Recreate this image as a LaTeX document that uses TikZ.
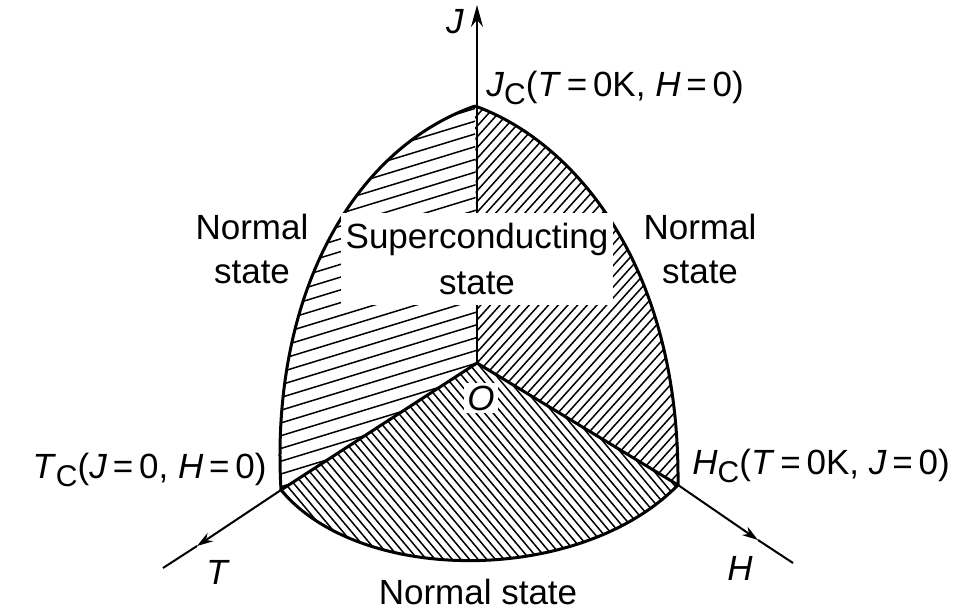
\documentclass[tikz,border=0pt]{standalone}
\usepackage{fontspec}
\setmainfont{Liberation Sans}
\usetikzlibrary{arrows.meta}
\newcommand\csub[1]{\raisebox{-0.4ex}{\fontsize{15}{17}\selectfont #1}}
\begin{document}
\begin{tikzpicture}[x=0.5pt,y=-0.5pt,
  bound/.style={line width=1.5pt, line join=round},
  axisline/.style={line width=1pt},
  hatch/.style={line width=0.75pt},
  lbl/.style={font=\fontsize{17.5}{21}\selectfont, inner sep=0pt},
]
\useasboundingbox (0,0) rectangle (979,613);
\coordinate (O) at (477,363);
\coordinate (Jc) at (475,106);
\coordinate (Tc) at (281,490);
\coordinate (Hc) at (678,485);
\coordinate (Jend) at (477,5);
\coordinate (Tarr) at (197,546);
\coordinate (Tend) at (163,568);
\coordinate (Harr) at (758,540);
\coordinate (Hend) at (793,563);

% hatching: left region
\begin{scope}
\clip (O) -- (Jc) .. controls (350,150) and (270,300) .. (Tc) -- cycle;
\begin{scope}[shift={(O)}, rotate=17]
\foreach \i in {-40,...,40} \draw[hatch] (-700,{\i*12.2}) -- (700,{\i*12.2});
\end{scope}
\end{scope}
% hatching: right region
\begin{scope}
\clip (O) -- (Jc) .. controls (570,140) and (680,260) .. (Hc) -- cycle;
\begin{scope}[shift={(O)}, rotate=48]
\foreach \i in {-60,...,60} \draw[hatch] (-700,{\i*7.2}) -- (700,{\i*7.2});
\end{scope}
\end{scope}
% hatching: bottom region
\begin{scope}
\clip (O) -- (Tc) .. controls (360,585) and (580,585) .. (Hc) -- cycle;
\begin{scope}[shift={(O)}, rotate=-50]
\foreach \i in {-60,...,60} \draw[hatch] (-700,{\i*6.6}) -- (700,{\i*6.6});
\end{scope}
\end{scope}

% axes
\draw[axisline,-{Stealth[length=11pt,width=6pt]}] (O) -- (Jend);
\draw[axisline,-{Stealth[length=8pt,width=5pt]}] (Tc) -- (Tarr);
\draw[axisline] (Tarr) -- (Tend);
\draw[axisline,-{Stealth[length=8pt,width=5pt]}] (Hc) -- (Harr);
\draw[axisline] (Harr) -- (Hend);

% boundaries
\draw[bound] (Jc) .. controls (350,150) and (270,300) .. (Tc);
\draw[bound] (Jc) .. controls (570,140) and (680,260) .. (Hc);
\draw[bound] (Tc) .. controls (360,585) and (580,585) .. (Hc);
\draw[bound] (Tc) -- (O) -- (Hc);

% superconducting label with white background
\node[lbl, fill=white, minimum width=136pt, minimum height=46pt, align=center]
  (sc) at (477,259) {Superconducting\\[2pt]state};

% labels
\node[lbl] (Jl) at (455,22) {\textit{J}};
\node[lbl, anchor=west] (Jcl) at (486,88) {\textit{J}\csub{C}(\textit{T}\,=\,0K, \textit{H}\,=\,0)};
\node[lbl, anchor=east] (Tcl) at (267,470) {\textit{T}\csub{C}(\textit{J}\,=\,0, \textit{H}\,=\,0)};
\node[lbl, anchor=west] (Hcl) at (692,466) {\textit{H}\csub{C}(\textit{T}\,=\,0K, \textit{J}\,=\,0)};
\node[lbl, align=center] (nl) at (252,249) {Normal\\[1pt]state};
\node[lbl, align=center] (nr) at (700,249) {Normal\\[1pt]state};
\node[lbl] (nb) at (478,592) {Normal state};
\node[lbl, fill=white, inner sep=1.5pt] (Ol) at (481,398) {\textit{O}};
\node[lbl] (Tl) at (218,572) {\textit{T}};
\node[lbl] (Hl) at (740,568) {\textit{H}};
\end{tikzpicture}
\end{document}
